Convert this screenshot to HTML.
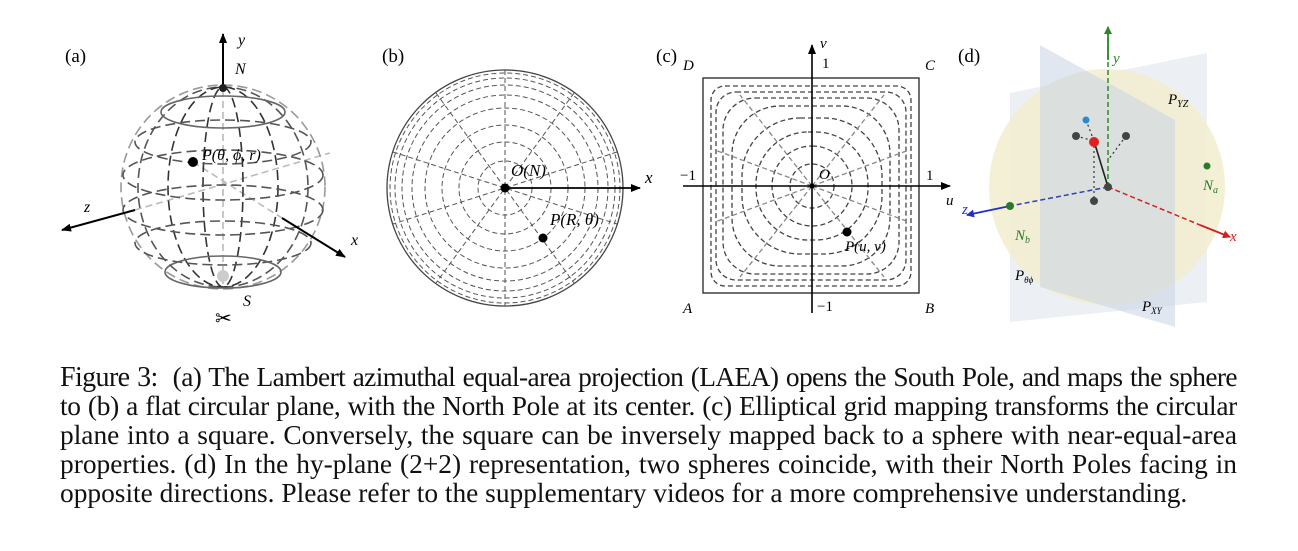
<!DOCTYPE html>
<html><head><meta charset="utf-8"><style>
body{margin:0;width:1298px;height:551px;background:#fff;position:relative;overflow:hidden;font-family:"Liberation Serif",serif;}
svg{position:absolute;left:0;top:0}
.cap{position:absolute;left:60px;width:1177px;font-size:27.4px;line-height:29px;text-align:justify;text-align-last:justify;white-space:nowrap;color:#111}
.cap.last{text-align-last:left}
</style></head><body>
<svg width="1298" height="360" viewBox="0 0 1298 360">
<defs>
<marker id="ah" markerWidth="10" markerHeight="8" refX="9" refY="4" orient="auto" markerUnits="userSpaceOnUse"><path d="M0,0L10,4L0,8z" fill="#000"/></marker>
<marker id="ahg" markerWidth="8" markerHeight="8" refX="7" refY="4" orient="auto" markerUnits="userSpaceOnUse"><path d="M0,0L8,4L0,8z" fill="#2a8a2a"/></marker>
<marker id="ahr" markerWidth="8" markerHeight="8" refX="7" refY="4" orient="auto" markerUnits="userSpaceOnUse"><path d="M0,0L8,4L0,8z" fill="#d42020"/></marker>
<marker id="ahb" markerWidth="8" markerHeight="8" refX="7" refY="4" orient="auto" markerUnits="userSpaceOnUse"><path d="M0,0L8,4L0,8z" fill="#2030c0"/></marker>
</defs>
<g font-family="Liberation Serif" font-size="19">
<text x="65" y="62">(a)</text><text x="382" y="62">(b)</text><text x="656" y="62">(c)</text><text x="958" y="62">(d)</text>
</g>
<!-- (a) sphere -->
<g fill="none" stroke-width="1.6">
<line x1="223" y1="90" x2="223" y2="285" stroke="#bbb" stroke-dasharray="7,4"/>
<line x1="135" y1="210" x2="330" y2="153" stroke="#bbb" stroke-dasharray="7,4"/>
<line x1="193" y1="162" x2="282" y2="218" stroke="#bbb" stroke-dasharray="7,4"/>
<circle cx="223" cy="187" r="102" stroke="#999" stroke-dasharray="10,5"/>
<ellipse cx="223" cy="187" rx="85" ry="100" stroke="#555" stroke-dasharray="10,5"/>
<ellipse cx="223" cy="187" rx="55" ry="100" stroke="#333" stroke-dasharray="10,5"/>
<ellipse cx="223" cy="187" rx="20" ry="100" stroke="#333" stroke-dasharray="10,5"/>
<ellipse cx="223" cy="112" rx="62" ry="16" stroke="#666"/>
<ellipse cx="223" cy="142" rx="88" ry="22" stroke="#555" stroke-dasharray="10,5"/>
<ellipse cx="223" cy="175" rx="100" ry="25" stroke="#555" stroke-dasharray="10,5"/>
<ellipse cx="223" cy="210" rx="100" ry="25" stroke="#555" stroke-dasharray="10,5"/>
<ellipse cx="223" cy="243" rx="88" ry="22" stroke="#555" stroke-dasharray="10,5"/>
<ellipse cx="223" cy="272" rx="58" ry="16" stroke="#666"/>
</g>
<circle cx="223" cy="276" r="6" fill="#ccc"/>
<line x1="223" y1="87" x2="223" y2="34" stroke="#000" stroke-width="2" marker-end="url(#ah)"/>
<line x1="135" y1="210" x2="62" y2="230" stroke="#000" stroke-width="2" marker-end="url(#ah)"/>
<line x1="282" y1="218" x2="345" y2="257" stroke="#000" stroke-width="2" marker-end="url(#ah)"/>
<circle cx="193" cy="162" r="5" fill="#000"/>
<circle cx="223" cy="88" r="4" fill="#222"/>
<g font-family="Liberation Serif" font-style="italic" font-size="16">
<text x="238" y="45">y</text><text x="235" y="74">N</text><text x="202" y="160">P(θ, ϕ, r)</text>
<text x="84" y="212">z</text><text x="351" y="245">x</text><text x="243" y="306">S</text>
</g>
<text x="215" y="325" font-size="20" font-family="DejaVu Sans">✂</text>
<!-- (b) -->
<g fill="none" stroke="#555" stroke-width="1" stroke-dasharray="5,3">
<circle cx="505" cy="188" r="27"/><circle cx="505" cy="188" r="46"/><circle cx="505" cy="188" r="63"/><circle cx="505" cy="188" r="80"/><circle cx="505" cy="188" r="93"/><circle cx="505" cy="188" r="103"/><circle cx="505" cy="188" r="110"/><circle cx="505" cy="188" r="115"/>
<line x1="505" y1="70" x2="505" y2="306"/>
<line x1="436" y1="93" x2="574" y2="283"/><line x1="574" y1="93" x2="436" y2="283"/>
<line x1="393" y1="152" x2="617" y2="224"/><line x1="617" y1="152" x2="393" y2="224"/>
</g>
<circle cx="505" cy="188" r="118" fill="none" stroke="#444" stroke-width="1.3"/>
<line x1="505" y1="188" x2="640" y2="188" stroke="#000" stroke-width="1.8" marker-end="url(#ah)"/>
<circle cx="505" cy="188" r="4.5" fill="#000"/><circle cx="543" cy="238" r="4.5" fill="#000"/>
<g font-family="Liberation Serif" font-style="italic" font-size="17">
<text x="511" y="176">O(N)</text><text x="550" y="225">P(R, θ)</text><text x="645" y="183">x</text>
</g>
<!-- (c) -->
<rect x="703" y="78" width="216" height="215" fill="none" stroke="#333" stroke-width="1.4"/>
<g fill="none" stroke="#444" stroke-width="1.3" stroke-dasharray="5,3">
<rect x="711" y="86" width="200" height="200" rx="14"/>
<rect x="716" y="92" width="190" height="188" rx="20"/>
<rect x="723" y="98" width="176" height="176" rx="32"/>
<rect x="732" y="106" width="158" height="160" rx="48"/>
<rect x="742" y="118" width="140" height="136" rx="58"/>
<rect x="756" y="132" width="112" height="108" rx="52"/>
<rect x="772" y="146" width="80" height="80" rx="40"/>
<circle cx="812" cy="186" r="22"/>
<line x1="812" y1="186" x2="715" y2="150" stroke="#888"/><line x1="812" y1="186" x2="909" y2="222" stroke="#888"/>
<line x1="812" y1="186" x2="715" y2="222" stroke="#888"/><line x1="812" y1="186" x2="909" y2="150" stroke="#888"/>
<line x1="812" y1="186" x2="740" y2="95" stroke="#888"/><line x1="812" y1="186" x2="884" y2="277" stroke="#888"/>
<line x1="812" y1="186" x2="884" y2="95" stroke="#888"/><line x1="812" y1="186" x2="740" y2="277" stroke="#888"/>
</g>
<line x1="683" y1="186" x2="950" y2="186" stroke="#000" stroke-width="1.6" marker-end="url(#ah)"/>
<line x1="812" y1="313" x2="812" y2="45" stroke="#000" stroke-width="1.6" marker-end="url(#ah)"/>
<circle cx="812" cy="186" r="2.5" fill="#000"/><circle cx="847" cy="232" r="4.5" fill="#000"/>
<g font-family="Liberation Serif" font-style="italic" font-size="15">
<text x="683" y="70">D</text><text x="925" y="70">C</text><text x="683" y="313">A</text><text x="925" y="313">B</text>
<text x="820" y="48">v</text><text x="946" y="205">u</text><text x="819" y="179">O</text><text x="845" y="251">P(u, v)</text>
</g>
<g font-family="Liberation Serif" font-size="15">
<text x="822" y="68">1</text><text x="926" y="180">1</text><text x="680" y="180">−1</text><text x="817" y="311">−1</text>
</g>
<!-- (d) -->
<polygon points="1010,93 1207,53 1207,302 1010,322" fill="#dfe6ee" opacity="0.6"/>
<circle cx="1107" cy="187" r="118" fill="#f2edcf" opacity="0.85"/>
<polygon points="1040,45 1175,120 1175,327 1040,287" fill="#c8d4e4" opacity="0.55"/>
<line x1="1108" y1="187" x2="1108" y2="27" stroke="#2a8a2a" stroke-width="1.5" stroke-dasharray="5,3"/>
<line x1="1108" y1="60" x2="1108" y2="27" stroke="#2a8a2a" stroke-width="1.8" marker-end="url(#ahg)"/>
<line x1="1108" y1="187" x2="1010" y2="206" stroke="#3040b0" stroke-width="1.5" stroke-dasharray="5,3"/>
<line x1="1010" y1="206" x2="967" y2="215" stroke="#2030c0" stroke-width="1.8" marker-end="url(#ahb)"/>
<line x1="1108" y1="187" x2="1200" y2="225" stroke="#d42020" stroke-width="1.5" stroke-dasharray="5,3"/>
<line x1="1200" y1="225" x2="1230" y2="237" stroke="#d42020" stroke-width="1.8" marker-end="url(#ahr)"/>
<line x1="1108" y1="187" x2="1094" y2="141" stroke="#222" stroke-width="1.6"/>
<g stroke="#333" stroke-width="1.2" stroke-dasharray="2,3" fill="none">
<line x1="1094" y1="141" x2="1094" y2="200"/><line x1="1076" y1="136" x2="1094" y2="141"/><line x1="1126" y1="136" x2="1108" y2="160"/><line x1="1086" y1="120" x2="1094" y2="141"/>
</g>
<circle cx="1108" cy="187" r="4" fill="#444"/>
<circle cx="1094" cy="201" r="4" fill="#444"/><circle cx="1076" cy="136" r="4" fill="#444"/><circle cx="1126" cy="136" r="4" fill="#444"/>
<circle cx="1094" cy="142" r="5" fill="#e02020"/><circle cx="1086" cy="120" r="3.5" fill="#2a8ad0"/>
<circle cx="1207" cy="166" r="3.5" fill="#2a7a2a"/><circle cx="1010" cy="206" r="4" fill="#2a7a2a"/>
<g font-family="Liberation Serif" font-style="italic" font-size="15">
<text x="1113" y="63" fill="#2a8a2a">y</text><text x="1230" y="241" fill="#d42020">x</text><text x="962" y="214" fill="#2030c0">z</text>
<text x="1168" y="104">P<tspan font-size="10" dy="3">YZ</tspan></text>
<text x="1203" y="190" fill="#2a7a2a">N<tspan font-size="10" dy="3">a</tspan></text>
<text x="1015" y="240" fill="#2a7a2a">N<tspan font-size="10" dy="3">b</tspan></text>
<text x="1015" y="280">P<tspan font-size="9" dy="3">θϕ</tspan></text>
<text x="1142" y="311">P<tspan font-size="9" dy="3">XY</tspan></text>
</g>
</svg>
<div class="cap" style="top:363px;letter-spacing:-0.6px"><span style="font-size:28px">Figure 3:</span>&nbsp; (a) The Lambert azimuthal equal-area projection (LAEA) opens the South Pole, and maps the sphere</div>
<div class="cap" style="top:392px;letter-spacing:-0.3px">to (b) a flat circular plane, with the North Pole at its center. (c) Elliptical grid mapping transforms the circular</div>
<div class="cap" style="top:421px">plane into a square. Conversely, the square can be inversely mapped back to a sphere with near-equal-area</div>
<div class="cap" style="top:450px">properties. (d) In the hy-plane (2+2) representation, two spheres coincide, with their North Poles facing in</div>
<div class="cap last" style="top:479px">opposite directions. Please refer to the supplementary videos for a more comprehensive understanding.</div>
</body></html>
